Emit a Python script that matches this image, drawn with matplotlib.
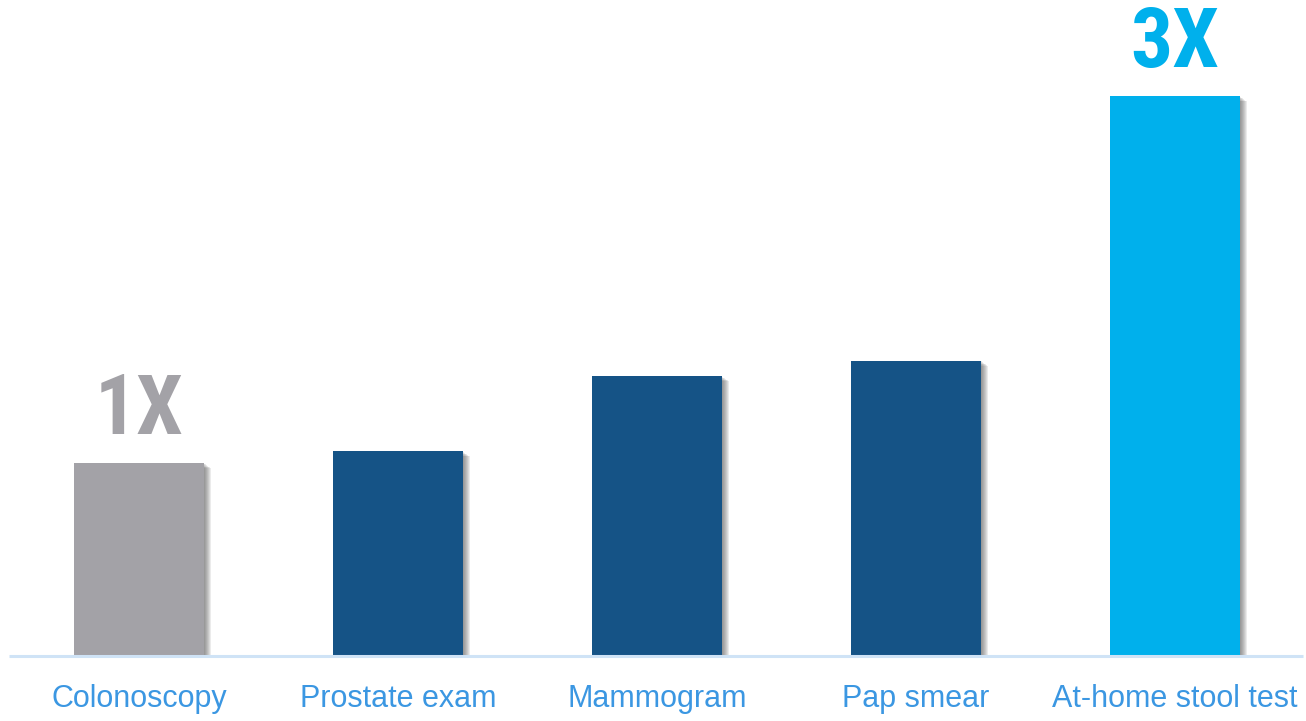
import matplotlib
matplotlib.use("Agg")
import matplotlib.pyplot as plt
import matplotlib.patheffects as pe
import matplotlib.transforms as mtransforms

categories = ["Colonoscopy", "Prostate exam", "Mammogram", "Pap smear", "At-home stool test"]
values = [1.0, 1.06, 1.45, 1.53, 2.90]
colors = ["#a3a2a7", "#155386", "#155386", "#155386", "#00b0ec"]
callouts = {0: "#a3a2a7", 4: "#00b0ec"}

plt.rcParams['font.family'] = ['Liberation Sans', 'DejaVu Sans']

fig = plt.figure(figsize=(13.06, 7.21), dpi=100)
ax = fig.add_axes([9/1306, 65/721, 1294/1306, 656/721])
ax.set_xlim(-0.502, 4.494)
ax.set_ylim(0, 656/193)

# soft drop shadow to the lower right of each bar
px = 72/100
shadow = [pe.SimplePatchShadow(offset=(k*px, -k*px*0.7), shadow_rgbFace="#4a4a4a", alpha=0.11)
          for k in range(7, 0, -1)]

x = list(range(len(categories)))
bars = ax.bar(x, values, width=130/259, color=colors, zorder=3)
for b in bars:
    b.set_path_effects(shadow + [pe.Normal()])

for i, c in callouts.items():
    ax.text(x[i], values[i] + 29/193, f"{round(values[i])}X", ha="center", va="baseline",
            fontsize=60, fontweight="bold", color=c, zorder=5,
            family=["Roboto Condensed", "DejaVu Sans"])

ax.plot([0, 1], [0, 0], transform=ax.transAxes, color="#cfe3f6", lw=2.2, zorder=4,
        solid_capstyle="butt", clip_on=False)

# category labels sit below the baseline
trans = mtransforms.blended_transform_factory(ax.transData, ax.transAxes)
for xi, name in zip(x, categories):
    ax.text(xi, (14 - 65)/656, name, transform=trans, ha="center", va="baseline",
            fontsize=22, color="#3b97e2", clip_on=False)

ax.axis("off")

fig.savefig("out.png", dpi=100)
